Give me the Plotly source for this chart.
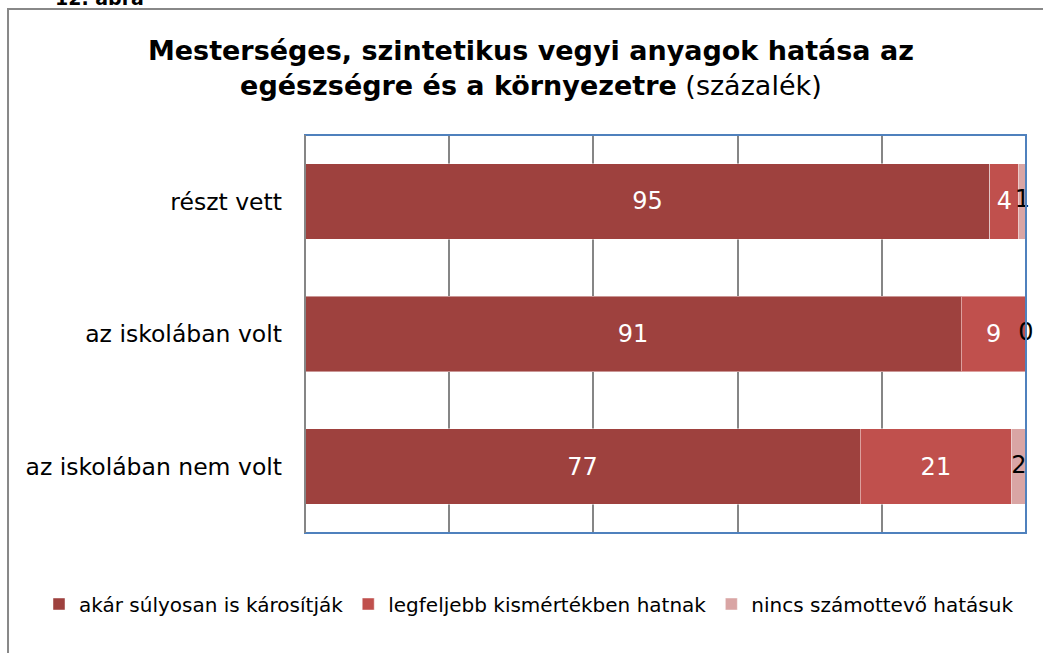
import plotly.graph_objects as go

categories = ["részt vett", "az iskolában volt", "az iskolában nem volt"]
series_names = ["akár súlyosan is károsítják", "legfeljebb kismértékben hatnak", "nincs számottevő hatásuk"]
severe = [95, 91, 77]
minor = [4, 9, 21]
none_ = [1, 0, 2]
x_ticks = [0, 20, 40, 60, 80, 100]

colors = ["#9E413E", "#C0504D", "#D9A5A4"]
FONT = "DejaVu Sans, Liberation Sans, Arial, sans-serif"

fig = go.Figure()
for name, vals, col, tcol in [(series_names[0], severe, colors[0], "white"),
                              (series_names[1], minor, colors[1], "white")]:
    fig.add_trace(go.Bar(
        y=categories, x=vals, name=name, orientation="h",
        marker=dict(color=col, line=dict(color="rgba(255,255,255,0.45)", width=1)),
        text=[str(v) for v in vals], textposition="inside", insidetextanchor="middle",
        textfont=dict(color=tcol, size=24, family=FONT), constraintext="none",
    ))
fig.add_trace(go.Bar(
    y=categories, x=none_, name=series_names[2], orientation="h",
    marker=dict(color=colors[2], line=dict(color="rgba(255,255,255,0.45)", width=1)),
    hoverinfo="x+name",
))
# labels for the thin last segment, centred on the segment
centers = [a + b + c / 2 for a, b, c in zip(severe, minor, none_)]
fig.add_trace(go.Scatter(
    y=categories, x=centers, mode="text", text=[str(v) for v in none_],
    textposition="middle center", textfont=dict(color="black", size=24, family=FONT),
    showlegend=False, cliponaxis=False, hoverinfo="skip",
))

fig.update_layout(
    width=1043, height=653,
    barmode="stack", bargap=0.43,
    paper_bgcolor="white", plot_bgcolor="white",
    font=dict(family=FONT, size=22, color="black"),
    margin=dict(l=305, r=17, t=135, b=120, autoexpand=False),
    title=dict(
        text="<b>Mesterséges, szintetikus vegyi anyagok hatása az<br>egészségre és a környezetre</b> (százalék)",
        x=0.509, xanchor="center", y=0.908, yanchor="middle",
        font=dict(size=27, family=FONT, color="black"),
    ),
    legend=dict(orientation="h", x=(39 - 305) / 721, xanchor="left", xref="paper",
                y=(533 - 604) / 398, yanchor="middle", yref="paper",
                font=dict(size=20, family=FONT), itemwidth=30, traceorder="normal"),
    xaxis=dict(range=[0, 100], tickvals=x_ticks, showticklabels=False,
               showgrid=True, gridcolor="#868686", gridwidth=2, zeroline=False,
               fixedrange=True),
    yaxis=dict(autorange="reversed", showgrid=False, ticks="", ticklabelstandoff=22,
               tickfont=dict(size=23.5, family=FONT)),
    showlegend=True,
)

# plot border: blue on top/right/bottom, gray on left
fig.add_shape(type="rect", xref="paper", yref="paper", x0=0, x1=1, y0=0, y1=1,
              line=dict(color="#4F81BD", width=2), layer="above")
fig.add_shape(type="line", xref="paper", yref="paper", x0=0, x1=0, y0=0, y1=1,
              line=dict(color="#868686", width=2), layer="above")
# outer chart frame
fig.add_shape(type="rect", xref="paper", yref="paper", x0=-0.4119, x1=1.03, y0=-0.32, y1=1.3166,
              line=dict(color="#888888", width=2), layer="below")
fig.add_annotation(text="<b>12. ábra</b>", xref="paper", yref="paper",
                   x=-0.349, y=1.3116, xanchor="left", yanchor="bottom",
                   showarrow=False, font=dict(size=19, family=FONT))

fig.write_html("out.html", config={"displayModeBar": False},
               post_script="document.body.style.margin='0';")
